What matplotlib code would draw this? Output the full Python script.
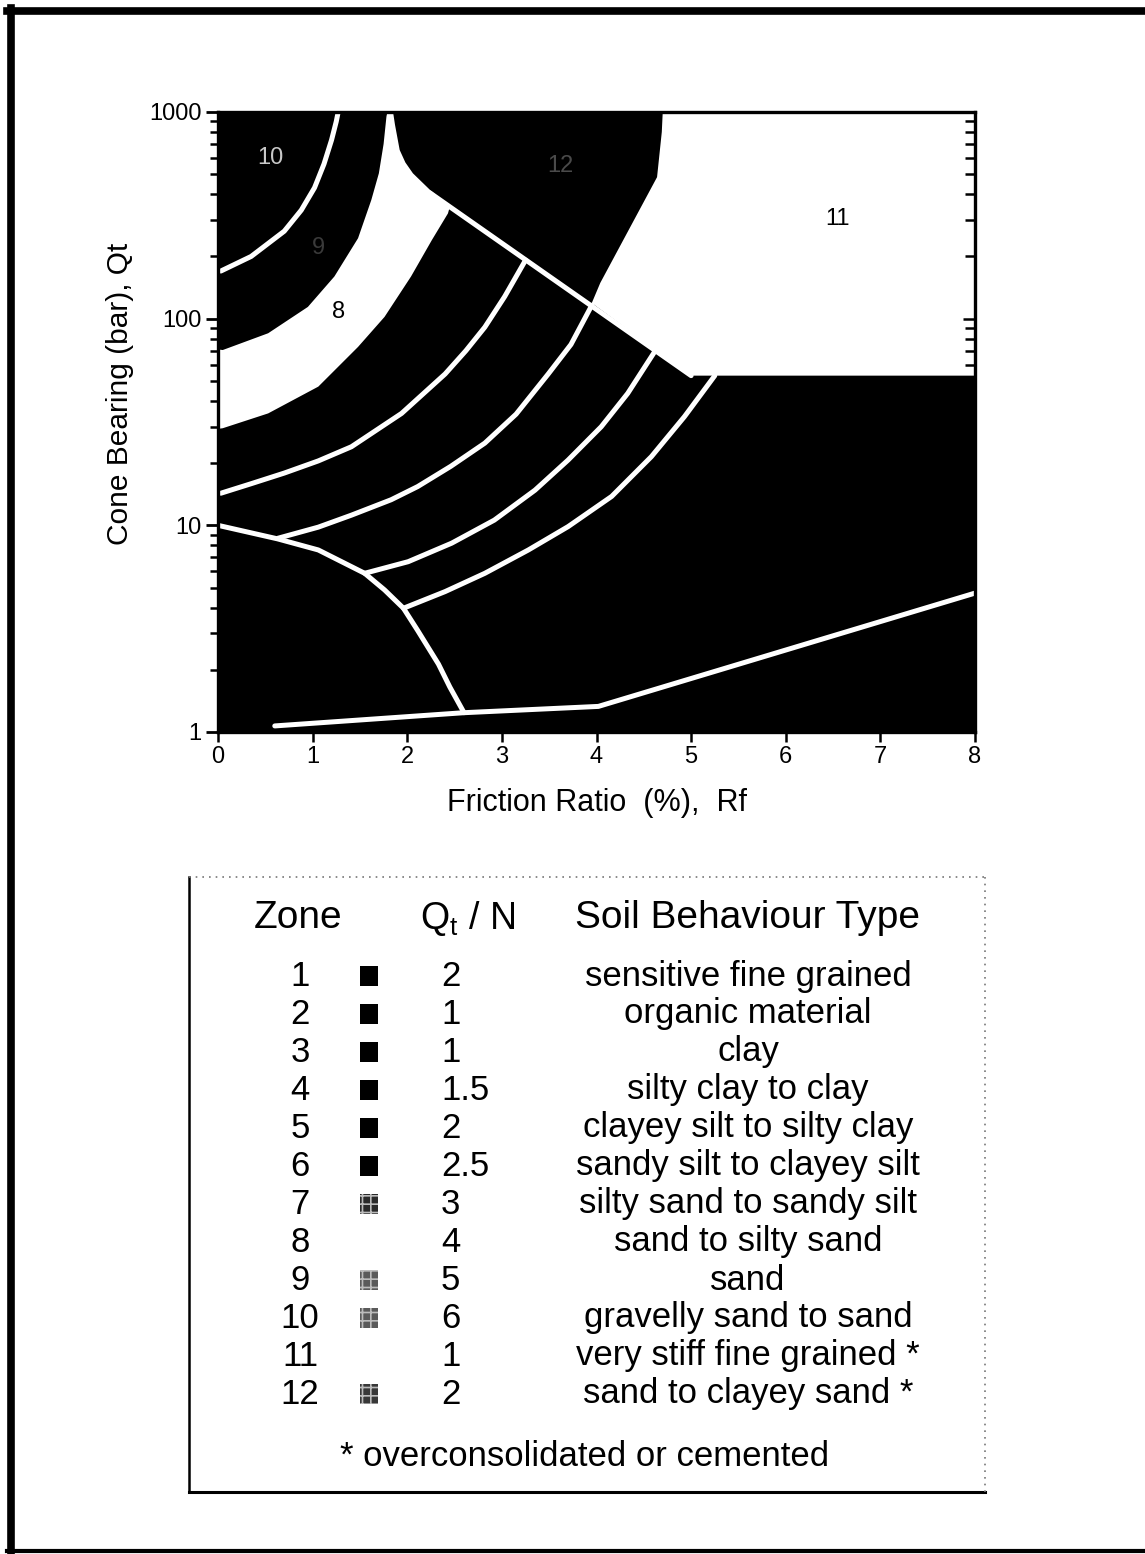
import matplotlib
matplotlib.use("Agg")
import matplotlib.pyplot as plt
import matplotlib.ticker as ticker
from matplotlib.lines import Line2D
from matplotlib.patches import Rectangle

plt.rcParams.update({
    "font.family": ["Liberation Sans", "DejaVu Sans"],
    "hatch.linewidth": 1.2,
})

W, H = 1145, 1554

# axis ticks
rf_ticks = [0, 1, 2, 3, 4, 5, 6, 7, 8]
qt_ticks = [1, 10, 100, 1000]

# white zones (8 and 11)
zone8_rf = [0.0, 0.0, 0.05, 0.53, 0.95, 1.23, 1.48, 1.62, 1.70, 1.75, 1.78, 1.79,
            1.85, 1.87, 1.92, 1.98, 2.06, 2.24, 2.45,
            2.43, 2.26, 2.04, 1.76, 1.48, 1.06, 0.53, 0.05, 0.0]
zone8_qt = [29.3, 71, 70.5, 85, 114, 160, 245, 375, 505, 700, 949, 1000,
            1000, 870, 655, 570, 505, 420, 348,
            323, 240, 160, 102, 73, 46.9, 34.8, 29.5, 29.3]
zone11_rf = [4.70, 8.0, 8.0, 5.0, 3.95, 4.04, 4.64, 4.69, 4.70]
zone11_qt = [1000, 1000, 53, 53, 119, 149, 484, 800, 1000]

# white boundary lines
line_10_9_rf = [0.03, 0.35, 0.70, 0.88, 1.02, 1.12, 1.20, 1.25, 1.27]
line_10_9_qt = [170, 200, 265, 335, 430, 560, 732, 900, 1000]
diag_rf = [2.24, 5.0]
diag_qt = [406, 53]
arc2_rf = [0.03, 0.35, 0.70, 1.06, 1.41, 1.94, 2.40, 2.62, 2.82, 3.03, 3.25]
arc2_qt = [14.3, 15.9, 17.9, 20.5, 24, 34.8, 54, 70, 91, 128, 192]
arc3_rf = [0.63, 1.06, 1.41, 1.83, 2.11, 2.46, 2.82, 3.15, 3.49, 3.73, 3.95]
arc3_qt = [8.65, 9.8, 11.2, 13.3, 15.4, 19.3, 25, 34.5, 54, 75, 116]
arc4_rf = [1.55, 2.01, 2.47, 2.92, 3.35, 3.70, 4.05, 4.33, 4.63]
arc4_qt = [5.86, 6.67, 8.2, 10.6, 14.8, 20.7, 30, 43.5, 71]
arc5_rf = [1.96, 2.40, 2.82, 3.28, 3.70, 4.16, 4.58, 4.93, 5.25]
arc5_qt = [3.97, 4.78, 5.86, 7.6, 9.86, 13.8, 21.5, 33.6, 53]
zone1_rf = [0.0, 0.63, 1.06, 1.55, 1.76, 1.96, 2.11, 2.33, 2.45, 2.6]
zone1_qt = [10, 8.6, 7.6, 5.86, 4.87, 3.97, 3.1, 2.13, 1.65, 1.24]
bottom_rf = [0.6, 2.6, 4.02, 8.0]
bottom_qt = [1.07, 1.24, 1.33, 4.7]

# zone labels inside the chart
label_text = ["10", "9", "8", "12", "11"]
label_rf = [0.55, 1.06, 1.27, 3.62, 6.55]
label_qt = [600, 220, 108, 545, 305]
label_color = ["#c8c8c8", "#3a3a3a", "black", "#4a4a4a", "black"]

# legend table
zone_ids = ["1", "2", "3", "4", "5", "6", "7", "8", "9", "10", "11", "12"]
qt_over_n = ["2", "1", "1", "1.5", "2", "2.5", "3", "4", "5", "6", "1", "2"]
soil_types = [
    "sensitive fine grained",
    "organic material",
    "clay",
    "silty clay to clay",
    "clayey silt to silty clay",
    "sandy silt to clayey silt",
    "silty sand to sandy silt",
    "sand to silty sand",
    "sand",
    "gravelly sand to sand",
    "very stiff fine grained *",
    "sand to clayey sand *",
]
swatch = ["black"] * 6 + ["#2a2a2a", None, "#5a5a5a", "#5a5a5a", None, "#383838"]


def fx(px):
    return px / W


def fy(py):
    return 1 - py / H


fig = plt.figure(figsize=(W / 100, H / 100), dpi=100)

ax = fig.add_axes([fx(218), fy(732), (975 - 218) / W, (732 - 112) / H])
ax.set_facecolor("black")
ax.set_xlim(0, 8)
ax.set_yscale("log")
ax.set_ylim(1, 1000)

ax.fill(zone8_rf, zone8_qt, color="white", lw=0, zorder=1.5)
ax.fill(zone11_rf, zone11_qt, color="white", lw=0, zorder=1.5)

for xs, ys in [(line_10_9_rf, line_10_9_qt), (diag_rf, diag_qt), (arc2_rf, arc2_qt),
               (arc3_rf, arc3_qt), (arc4_rf, arc4_qt), (arc5_rf, arc5_qt),
               (zone1_rf, zone1_qt), (bottom_rf, bottom_qt)]:
    ax.plot(xs, ys, color="white", lw=3.6, solid_capstyle="round",
            solid_joinstyle="round", zorder=2)

for t, x, y, c in zip(label_text, label_rf, label_qt, label_color):
    ax.text(x, y, t, color=c, fontsize=17, ha="center", va="center", zorder=3)

ax.set_xticks(rf_ticks)
ax.set_xticklabels([str(v) for v in rf_ticks])
ax.set_yticks(qt_ticks)
ax.set_yticklabels([str(v) for v in qt_ticks])
ax.yaxis.set_minor_locator(ticker.LogLocator(base=10, subs=range(2, 10)))
ax.yaxis.set_minor_formatter(ticker.NullFormatter())
ax.tick_params(axis="x", which="major", direction="out", length=7, width=1.8,
               labelsize=17, pad=3)
ax.tick_params(axis="y", which="major", direction="out", length=9, width=2,
               labelsize=17, pad=3)
ax.tick_params(axis="y", which="minor", direction="out", length=6, width=1.8)
for s in ax.spines.values():
    s.set_linewidth(2.4)
    s.set_color("black")

# inward ticks on the right side
ax2 = ax.twinx()
ax2.set_yscale("log")
ax2.set_ylim(1, 1000)
ax2.yaxis.set_minor_locator(ticker.LogLocator(base=10, subs=range(2, 10)))
ax2.tick_params(axis="y", which="both", direction="in", labelright=False, width=1.8)
ax2.tick_params(axis="y", which="major", length=9)
ax2.tick_params(axis="y", which="minor", length=7)
for s in ax2.spines.values():
    s.set_visible(False)

fig.text(fx(597), fy(803), "Friction Ratio  (%),  Rf", fontsize=22,
         ha="center", va="center")
fig.text(fx(120), fy(394), "Cone Bearing (bar), Qt", fontsize=21.5,
         rotation=90, ha="center", va="center")

# table box
fig.add_artist(Line2D([fx(189), fx(189)], [fy(877), fy(1492)], color="black", lw=1.8))
fig.add_artist(Line2D([fx(189), fx(985)], [fy(1492), fy(1492)], color="black", lw=2.2))
fig.add_artist(Line2D([fx(189), fx(985)], [fy(877), fy(877)], color="#777777",
                      lw=1.2, ls=(0, (1, 3))))
fig.add_artist(Line2D([fx(985), fx(985)], [fy(877), fy(1492)], color="#777777",
                      lw=1.2, ls=(0, (1, 3))))

fig.text(fx(298), fy(918), "Zone", fontsize=28, ha="center", va="center")
fig.text(fx(468), fy(918), r"$\mathregular{Q_t}$ / N", fontsize=27,
         ha="center", va="center")
fig.text(fx(748), fy(918), "Soil Behaviour Type", fontsize=28,
         ha="center", va="center")

for i, (z, q, s, c) in enumerate(zip(zone_ids, qt_over_n, soil_types, swatch)):
    py = 976 + 38 * i
    fig.text(fx(300), fy(py), z, fontsize=25, ha="center", va="center")
    fig.text(fx(441), fy(py), q, fontsize=25, ha="left", va="center")
    fig.text(fx(748), fy(py), s, fontsize=25, ha="center", va="center")
    if c is not None:
        hatch = None if c == "black" else "++"
        fig.add_artist(Rectangle((fx(360), fy(py + 10)), 18 / W, 20 / H,
                                 transform=fig.transFigure, facecolor=c,
                                 edgecolor="#bbbbbb" if hatch else c,
                                 hatch=hatch, lw=0))

fig.text(fx(585), fy(1456), "* overconsolidated or cemented", fontsize=25,
         ha="center", va="center")

# outer frame (left, top, bottom)
fig.add_artist(Line2D([fx(11), fx(11)], [fy(8), fy(1552)], color="black", lw=5.5))
fig.add_artist(Line2D([fx(7), fx(1145)], [fy(11), fy(11)], color="black", lw=5.5))
fig.add_artist(Line2D([fx(7), fx(1145)], [fy(1551), fy(1551)], color="black", lw=3))

fig.savefig("out.png", dpi=100)
